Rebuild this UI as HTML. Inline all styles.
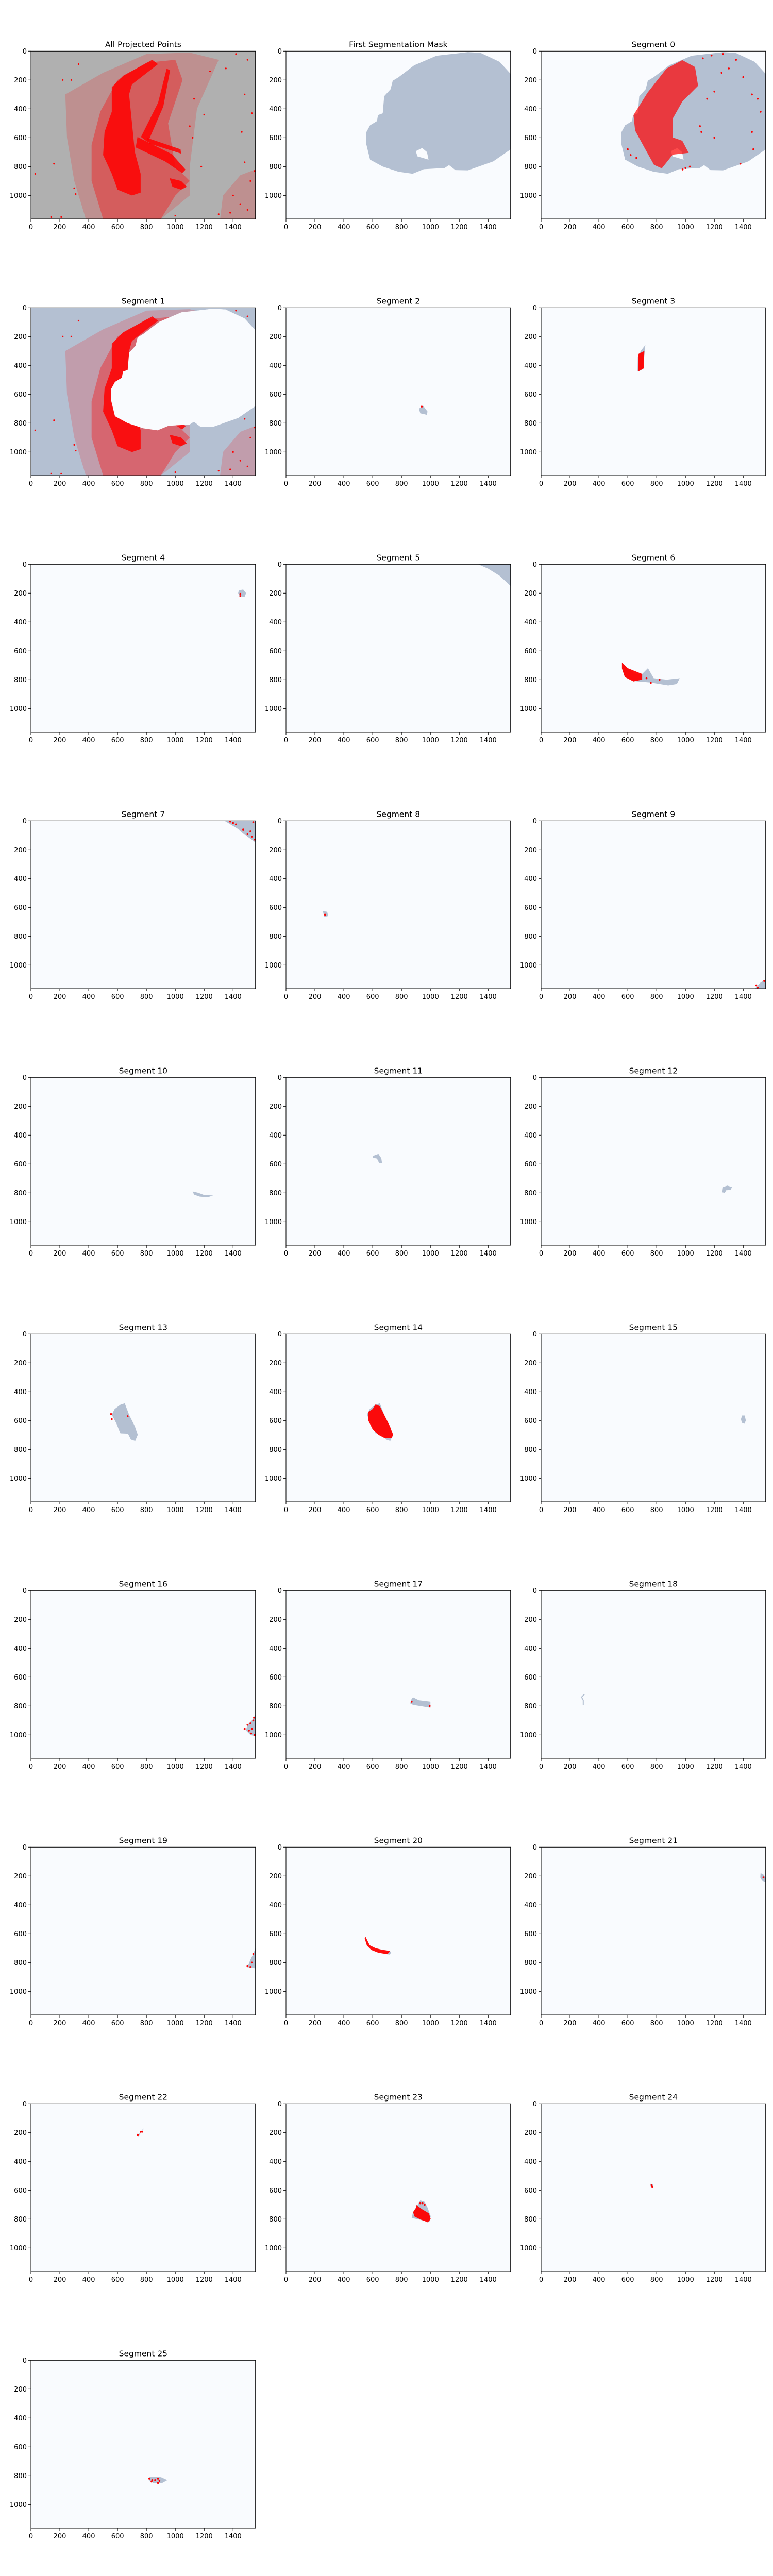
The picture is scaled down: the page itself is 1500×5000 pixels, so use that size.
<!DOCTYPE html>
<html><head><meta charset="utf-8">
<style>
html,body{margin:0;padding:0;background:#fff;}
#root{position:relative;width:1500px;height:5000px;overflow:hidden;}
svg text{font-family:"DejaVu Sans","Liberation Sans",sans-serif;fill:#000;}
</style></head>
<body>
<div id="root">
<svg id="fig" width="1500" height="5000" xmlns="http://www.w3.org/2000/svg"></svg>
</div>
<script>
// ---- data ----
const titles = ["All Projected Points","First Segmentation Mask"];
for (let i = 0; i <= 25; i++) titles.push("Segment " + i);
const xTicks = [0,200,400,600,800,1000,1200,1400];
const yTicks = [0,200,400,600,800,1000];
const xMax = 1555, yMax = 1163;

const head = [[1260,7],[1042,32],[888,98],[779,181],[739,205],[724,264],[680,312],[670,431],[637,443],[630,485],[582,514],[556,562],[556,645],[582,752],[670,800],[779,836],[877,850],[954,818],[1098,810],[1129,790],[1173,824],[1260,826],[1435,764],[1555,681],[1555,157],[1479,74],[1348,12]];
const headHole = [[899,693],[943,671],[976,699],[987,752],[910,729]];
const fullRect = [[0,0],[1555,0],[1555,1163],[0,1163]];

// red regions in the full point cloud
const cloudDense = [
 [[560,250],[640,170],[840,60],[880,90],[700,230],[680,300],[700,500],[720,700],[760,850],[760,980],[700,1000],[600,960],[560,850],[500,720],[510,560],[560,420]],
 [[738,595],[976,714],[1071,821],[1048,845],[929,764],[726,667]],
 [[762,595],[881,357],[940,121],[964,133],[917,383],[810,631]],
 [[800,600],[1036,680],[1040,710],[820,640]],
 [[960,880],[1040,900],[1080,940],[1040,960],[980,940]]
];
const cloudMedium = [
 [[480,420],[600,200],[800,80],[1000,60],[1050,200],[950,500],[1000,800],[1100,900],[1000,1000],[900,1163],[500,1163],[420,900],[420,650]]
];
const cloudSparse = [
 [[238,300],[500,150],[800,20],[1100,10],[1300,60],[1150,400],[1100,800],[1100,1000],[900,1163],[380,1163],[300,900],[250,600]],
 [[1310,1163],[1330,1000],[1450,860],[1555,820],[1555,1163]]
];
const cloudPoints = [[30,850],[160,780],[220,200],[280,200],[300,950],[310,990],[330,90],[1460,560],[1500,60],[1530,430],[1240,140],[1350,120],[1420,20],[1480,300],[1200,440],[1130,330],[1100,520],[1120,600],[1180,800],[1400,1000],[1500,1100],[1450,1060],[1380,1120],[1520,900],[1300,1130],[1480,770],[1550,830],[140,1150],[210,1150],[1000,1140]];

const seg0Red = [[868,121],[737,288],[640,443],[651,550],[716,669],[782,788],[836,812],[912,717],[1022,705],[978,621],[912,598],[912,467],[978,350],[1087,240],[1066,110],[978,62]];
const seg0Pts = [[1150,330],[1200,280],[1250,150],[1300,120],[1400,180],[1460,300],[1500,330],[1520,420],[1460,560],[1470,680],[1380,780],[1200,600],[1100,520],[1110,560],[980,820],[1000,810],[1030,800],[600,680],[620,720],[660,740],[1120,50],[1180,30],[1260,20],[1350,60]];

const segMasks = {
 2:[[[920,700],[950,680],[980,720],[975,742],[930,732]]],
 3:[[[722,258],[715,330],[700,430],[668,442],[670,340],[690,300]]],
 4:[[[1440,180],[1470,175],[1490,200],[1480,225],[1445,222],[1435,200]]],
 5:[[[1330,0],[1555,0],[1555,150],[1480,80],[1400,30]]],
 6:[[[560,680],[600,720],[650,760],[700,760],[740,720],[780,790],[870,800],[960,790],[940,830],[880,840],[760,820],[650,810],[580,780],[560,720]]],
 7:[[[1340,0],[1555,0],[1555,150],[1500,110],[1440,60]]],
 8:[[[255,625],[285,630],[292,660],[265,665]]],
 9:[[[1480,1163],[1520,1120],[1555,1100],[1555,1163]]],
 10:[[[1120,790],[1160,800],[1200,815],[1262,818],[1225,830],[1170,826],[1130,812]]],
 11:[[[600,545],[640,530],[660,560],[665,592],[645,592],[630,562],[600,556]]],
 12:[[[1260,760],[1290,750],[1322,760],[1312,780],[1282,782],[1272,800],[1255,796]]],
 13:[[[620,490],[650,480],[680,560],[720,640],[740,700],[722,742],[692,732],[672,692],[620,690],[592,620],[560,560],[580,520]]],
 14:[[[620,490],[650,480],[680,560],[720,640],[740,700],[722,742],[692,732],[672,692],[620,690],[592,620],[560,560],[580,520]]],
 15:[[[1392,565],[1410,565],[1418,600],[1408,622],[1390,615],[1384,590]]],
 16:[[[1555,860],[1555,1010],[1520,1000],[1490,970],[1500,930],[1530,900]]],
 17:[[[880,740],[920,760],[1000,770],[1000,812],[940,802],[880,792],[860,782],[870,750]]],
 19:[[[1555,700],[1555,840],[1500,832],[1520,780],[1540,740]]],
 20:[[[700,720],[730,725],[720,745],[690,740]]],
 21:[[[1520,180],[1540,190],[1555,210],[1555,242],[1530,232],[1518,210]]],
 22:[[[785,170],[762,200],[742,232],[750,208],[772,180]]],
 23:[[[900,720],[930,670],[960,680],[980,720],[1002,780],[992,822],[920,802],[870,792],[880,750]]],
 24:[[[755,555],[775,558],[778,575],[760,575]]],
 25:[[[820,808],[900,810],[945,830],[905,852],[850,852],[820,832]]]
};
const segLines = {18:[[300,718],[280,738],[292,760],[292,792]]};
const segRed = {
 3:[[[675,320],[715,300],[712,420],[672,442]]],
 6:[[[560,680],[600,720],[700,760],[700,800],[640,812],[580,782],[560,722]]],
 14:[[[600,520],[620,488],[650,500],[690,580],[720,640],[742,700],[732,722],[682,722],[640,700],[600,660],[570,600],[570,540]]],
 20:[[[550,620],[580,680],[620,700],[660,710],[722,720],[702,742],[640,732],[590,712],[560,682],[545,632]]],
 23:[[[900,700],[940,730],[990,760],[1002,800],[982,822],[930,802],[890,782],[880,752],[900,722]]]
};
const segPts = {
 2:[[940,685]],
 4:[[1450,205],[1450,220]],
 6:[[820,800],[760,822],[730,790]],
 7:[[1380,5],[1400,15],[1420,25],[1470,60],[1500,90],[1520,70],[1540,10],[1530,110],[1550,130]],
 8:[[270,650]],
 9:[[1490,1140],[1545,1110],[1500,1155]],
 13:[[555,555],[560,590],[670,570]],
 16:[[1545,880],[1540,900],[1520,920],[1500,930],[1480,960],[1510,970],[1530,960],[1525,990],[1550,1000]],
 17:[[870,770],[995,800]],
 19:[[1540,740],[1530,800],[1500,825],[1520,830]],
 21:[[1540,210]],
 22:[[760,195],[740,215],[770,195]],
 23:[[930,690],[945,690],[960,700]],
 24:[[765,565],[770,575]],
 25:[[820,820],[840,830],[860,830],[880,820],[880,850],[890,835],[835,840]]
};

// ---- layout ----
const NS = "http://www.w3.org/2000/svg";
const svg = document.getElementById("fig");
const L0 = 60, T0 = 99.3, COLP = 495, ROWP = 498, W = 435.7, H = 325.7;
const MASK = "#b4c0d2", BG = "#f9fbfe", RED = "#ff0000";

function mk(tag, attrs, parent){ const e=document.createElementNS(NS,tag); for(const k in attrs) e.setAttribute(k,attrs[k]); (parent||svg).appendChild(e); return e; }

titles.forEach((title, i) => {
  const row = Math.floor(i/3), col = i%3;
  const left = L0 + COLP*col, top = T0 + ROWP*row;
  const sx = v => left + v*W/xMax, sy = v => top + v*H/yMax;
  const pts = poly => poly.map(p => sx(p[0]).toFixed(1)+","+sy(p[1]).toFixed(1)).join(" ");
  const pathD = poly => "M"+poly.map(p => sx(p[0]).toFixed(1)+" "+sy(p[1]).toFixed(1)).join("L")+"Z";

  const g = mk("g", {});
  
  
  const clipId = "clip"+i;
  const cp = mk("clipPath", {id: clipId}, g);
  mk("rect", {x:left, y:top, width:W, height:H}, cp);
  const plot = mk("g", {"clip-path":"url(#"+clipId+")"}, g);
  
  

  const bg = mk("rect", {x:left, y:top, width:W, height:H, fill: i===0 ? "#b0b0b0" : BG}, plot);
  
  

  const drawRedCloud = (parent) => {
    cloudSparse.forEach(p => { const e = mk("polygon", {points:pts(p), fill:RED, opacity:0.18}, parent);
      
       });
    cloudMedium.forEach(p => { const e = mk("polygon", {points:pts(p), fill:RED, opacity:0.35}, parent);
      
       });
    cloudDense.forEach(p => { const e = mk("polygon", {points:pts(p), fill:RED, opacity:0.85}, parent);
      
       });
    cloudPoints.forEach(p => { const c = mk("circle", {cx:sx(p[0]), cy:sy(p[1]), r:1.6, fill:RED}, parent);
      
       });
  };

  if (i === 0) {
    drawRedCloud(plot);
  } else if (i === 1 || i === 2) {
    const m = mk("path", {d: pathD(head)+pathD(headHole), fill:MASK, "fill-rule":"evenodd"}, plot);
    
    
    if (i === 2) {
      const r = mk("polygon", {points:pts(seg0Red), fill:RED, opacity:0.7}, plot);
      
      
      seg0Pts.forEach(p => { const c = mk("circle", {cx:sx(p[0]), cy:sy(p[1]), r:1.8, fill:RED}, plot);
        
         });
    }
  } else if (i === 3) {
    const m = mk("path", {d: pathD(fullRect)+pathD(head), fill:MASK, "fill-rule":"evenodd"}, plot);
    
    
    drawRedCloud(plot);
    const cut = mk("polygon", {points:pts(head), fill:BG}, plot);
    
    
  } else {
    const s = i - 2;
    (segMasks[s]||[]).forEach(p => { const e = mk("polygon", {points:pts(p), fill:MASK}, plot);
      
       });
    if (segLines[s]) { const e = mk("polyline", {points:pts(segLines[s]), fill:"none", stroke:MASK, "stroke-width":2}, plot);
      
       }
    (segRed[s]||[]).forEach(p => { const e = mk("polygon", {points:pts(p), fill:RED, opacity:0.95}, plot);
      
       });
    (segPts[s]||[]).forEach(p => { const c = mk("circle", {cx:sx(p[0]), cy:sy(p[1]), r:1.8, fill:RED}, plot);
      
       });
  }

  const frame = mk("rect", {x:left, y:top, width:W, height:H, fill:"none", stroke:"#000", "stroke-width":1}, g);
  
  

  xTicks.forEach(v => {
    const x = sx(v);
    const t = mk("line", {x1:x, y1:top+H, x2:x, y2:top+H+5, stroke:"#000", "stroke-width":1}, g);
    
    
    const lb = mk("text", {x:x, y:top+H+20, "text-anchor":"middle", "font-size":13}, g);
    lb.textContent = v;
    
    
  });
  yTicks.forEach(v => {
    const y = sy(v);
    const t = mk("line", {x1:left-5, y1:y, x2:left, y2:y, stroke:"#000", "stroke-width":1}, g);
    
    
    const lb = mk("text", {x:left-8, y:y+4.5, "text-anchor":"end", "font-size":13}, g);
    lb.textContent = v;
    
    
  });
  const tt = mk("text", {x:left+W/2, y:top-8, "text-anchor":"middle", "font-size":15.5}, g);
  tt.textContent = title;
  
  
});
</script>
</body></html>
